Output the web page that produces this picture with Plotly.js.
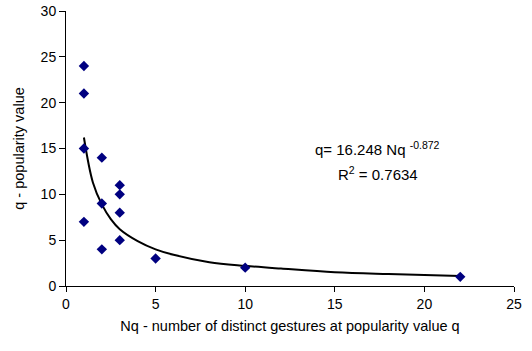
<!DOCTYPE html>
<html><head><meta charset="utf-8">
<script src="https://cdn.plot.ly/plotly-3.0.1.min.js"></script>
<style>html,body{margin:0;padding:0;background:#fff}#c{width:532px;height:351px}</style>
</head><body><div id="c"></div>
<script>
// Observed data points
const nq = [1, 1, 1, 1, 2, 2, 2, 3, 3, 3, 3, 5, 10, 22];
const q  = [24, 21, 15, 7, 14, 9, 4, 11, 10, 8, 5, 3, 2, 1];
// Power trendline, values
const trendX = [1, 1.5, 2, 2.5, 3, 4, 5, 6, 8, 10, 12, 15, 18, 22];
const trendY = [16.2, 11.3, 8.9, 7.3, 6.2, 4.9, 4.0, 3.4, 2.6, 2.2, 1.9, 1.5, 1.3, 1.1];
const xTicks = [0, 5, 10, 15, 20, 25];
const yTicks = [0, 5, 10, 15, 20, 25, 30];

const font = 'Liberation Sans, Arial, sans-serif';
Plotly.newPlot('c', [
  {x: trendX, y: trendY, mode: 'lines', line: {color: '#000', width: 2, shape: 'spline'}, hoverinfo: 'skip'},
  {x: nq, y: q, mode: 'markers', marker: {symbol: 'diamond', color: '#000080', size: 8}}
], {
  width: 532, height: 351,
  margin: {l: 66, r: 18, t: 11, b: 65},
  showlegend: false,
  paper_bgcolor: '#fff', plot_bgcolor: '#fff',
  font: {family: font, size: 12, color: '#000'},
  xaxis: {range: [0, 25], tickvals: xTicks, ticks: 'outside', ticklen: 5, tickcolor: '#000',
    showline: true, linecolor: '#000', linewidth: 1, showgrid: false, zeroline: false,
    tickfont: {size: 14},
    title: {text: 'Nq - number of distinct gestures at popularity value q', font: {size: 14.5}, standoff: 10}},
  yaxis: {range: [0, 30], tickvals: yTicks, ticks: 'outside', ticklen: 6, tickcolor: '#000',
    showline: true, linecolor: '#000', linewidth: 1, showgrid: false, zeroline: false,
    tickfont: {size: 14},
    title: {text: 'q - popularity value', font: {size: 14.5}, standoff: 12}},
  annotations: [
    {xref: 'x', yref: 'y', x: 17.4, y: 15.05, text: 'q= 16.248 Nq <sup>-0.872</sup>', showarrow: false, font: {size: 15}},
    {xref: 'x', yref: 'y', x: 17.4, y: 12.3, text: 'R<sup>2</sup> = 0.7634', showarrow: false, font: {size: 15}}
  ]
}, {displayModeBar: false, staticPlot: true});
</script></body></html>
